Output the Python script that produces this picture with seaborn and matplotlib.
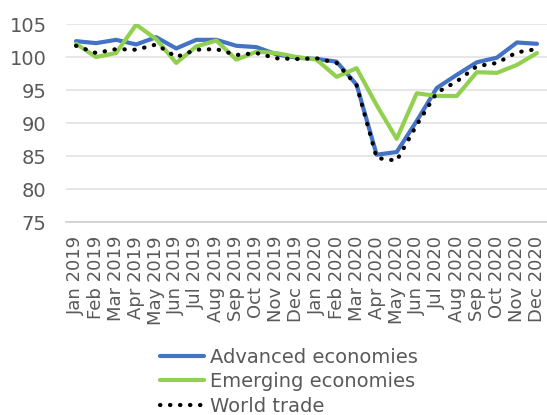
import matplotlib
matplotlib.use("Agg")
import matplotlib.pyplot as plt
import seaborn as sns
import pandas as pd

months = ["Jan 2019", "Feb 2019", "Mar 2019", "Apr 2019", "May 2019", "Jun 2019",
          "Jul 2019", "Aug 2019", "Sep 2019", "Oct 2019", "Nov 2019", "Dec 2019",
          "Jan 2020", "Feb 2020", "Mar 2020", "Apr 2020", "May 2020", "Jun 2020",
          "Jul 2020", "Aug 2020", "Sep 2020", "Oct 2020", "Nov 2020", "Dec 2020"]

advanced = [102.4, 102.1, 102.6, 101.9, 103.0, 101.3, 102.6, 102.6, 101.7, 101.5, 100.4, 99.9,
            99.7, 99.3, 95.8, 85.2, 85.6, 90.3, 95.3, 97.3, 99.2, 99.9, 102.2, 102.0]
emerging = [102.0, 100.0, 100.6, 104.9, 102.7, 99.1, 101.6, 102.5, 99.6, 100.8, 100.6, 100.0,
            99.6, 97.0, 98.3, 92.7, 87.6, 94.5, 94.1, 94.1, 97.7, 97.6, 98.8, 100.6]
world = [101.7, 100.6, 101.2, 101.1, 101.9, 100.0, 101.1, 101.2, 100.3, 100.6, 99.8, 99.7,
         99.8, 99.1, 95.7, 84.7, 84.3, 89.7, 94.6, 96.3, 98.6, 99.1, 100.7, 101.2]

series_names = ["Advanced economies", "Emerging economies", "World trade"]
yticks = [75, 80, 85, 90, 95, 100, 105]

df = pd.DataFrame({
    "month": months * 3,
    "pos": list(range(len(months))) * 3,
    "value": advanced + emerging + world,
    "series": [series_names[0]] * 24 + [series_names[1]] * 24 + [series_names[2]] * 24,
})

sns.set_theme(style="white")
plt.rcParams["font.family"] = ["DejaVu Sans"]

fig = plt.figure(figsize=(5.47, 4.15), dpi=100)
ax = fig.add_axes([66 / 547, 1 - 222 / 415, 481 / 547, 198 / 415])

styles = {
    series_names[0]: dict(color="#4472C4", linewidth=3.0, linestyle="-"),
    series_names[1]: dict(color="#92D050", linewidth=3.0, linestyle="-"),
    series_names[2]: dict(color="black", linewidth=3.0, linestyle=(0, (0.1, 2.3)),
                          dash_capstyle="round"),
}
for name in series_names:
    sub = df[df["series"] == name]
    sns.lineplot(data=sub, x="pos", y="value", ax=ax, label=name, **styles[name])

ax.set_xlim(-0.5, len(months) - 0.5)
ax.set_ylim(75, 105)
ax.set_yticks(yticks)
ax.set_yticklabels([str(t) for t in yticks])
ax.set_xticks(range(len(months)))
ax.set_xticklabels(months, rotation=90)
ax.set_xlabel("")
ax.set_ylabel("")
ax.grid(axis="y", color="#e3e3e3", linewidth=1.2)
ax.set_axisbelow(True)
for s in ["top", "right", "left"]:
    ax.spines[s].set_visible(False)
ax.spines["bottom"].set_color("#d0d0d0")
ax.spines["bottom"].set_linewidth(1.2)
ax.tick_params(axis="both", length=0, colors="#595959")
ax.tick_params(axis="x", pad=10, labelsize=13)
ax.tick_params(axis="y", pad=14, labelsize=14)

handles, labels = ax.get_legend_handles_labels()
ax.legend_.remove()
leg = fig.legend(handles, labels, loc="upper left", bbox_to_anchor=(146 / 547, 1 - 334 / 415),
                 frameon=False, fontsize=14, handlelength=2.3, labelspacing=0.28,
                 handletextpad=0.3, borderpad=0.2)
for t in leg.get_texts():
    t.set_color("#595959")

fig.savefig("out.png", dpi=100)
